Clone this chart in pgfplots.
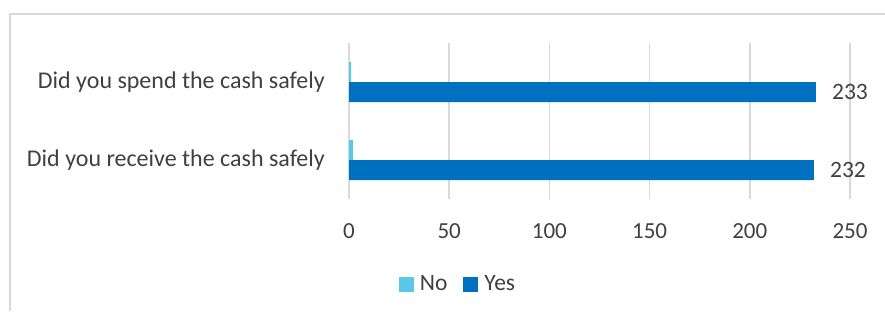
\documentclass[border=0pt]{standalone}
\usepackage{fontspec}
\setmainfont{Carlito}
\usepackage{pgfplots}
\pgfplotsset{compat=1.18}
\definecolor{noc}{RGB}{91,200,232}
\definecolor{yesc}{RGB}{0,112,192}
\definecolor{gridc}{RGB}{217,217,217}
\definecolor{txt}{RGB}{64,64,64}
\begin{document}
\begin{tikzpicture}[x=1pt,y=1pt]
\useasboundingbox (0,0) rectangle (885,-311);
\draw[gridc,line width=2pt] (10,-311) -- (10,-14) -- (885,-14);
\begin{axis}[
  at={(349pt,-199pt)}, anchor=south west, scale only axis,
  width=501pt, height=156pt,
  xmin=0, xmax=250, ymin=-0.5, ymax=1.5,
  xtick={0,50,100,150,200,250},
  ytick={0,1},
  yticklabels={Did you receive the cash safely, Did you spend the cash safely},
  axis line style={draw=none},
  major tick length=0pt,
  xmajorgrids, grid style={gridc, line width=1.5pt},
  font=\fontsize{23}{27}\selectfont,
  tick label style={text=txt},
  yticklabel style={anchor=east, inner sep=0pt, xshift=-24pt, font=\fontsize{24}{28}\selectfont},
  xticklabel style={anchor=north, inner sep=0pt, yshift=-24pt, font=\fontsize{23}{27}\selectfont},
  /pgf/number format/assume math mode=true,
  xbar, bar width=20pt,
  clip=false,
  legend columns=-1,
  legend style={at={(0.2156,-0.545)}, anchor=center, draw=none, fill=none,
    text=txt, font=\fontsize{23.5}{27}\selectfont,
    nodes={inner sep=0pt},
    /tikz/every odd column/.append style={column sep=6pt},
    /tikz/every even column/.append style={column sep=16pt},
    inner sep=0pt},
  legend image code/.code={\fill[#1] (0pt,-7.5pt) rectangle (15pt,7.5pt);},
]
\addplot[fill=noc, draw=none, bar shift=10pt] coordinates {(2,0) (1,1)};
\addlegendentry{No}
\addplot[fill=yesc, draw=none, bar shift=-10pt,
  nodes near coords,
  every node near coord/.append style={anchor=west, inner sep=0pt, xshift=16pt, text=txt, font=\fontsize{23.5}{27}\selectfont}]
  coordinates {(232,0) (233,1)};
\addlegendentry{Yes}
\end{axis}
\end{tikzpicture}
\end{document}
